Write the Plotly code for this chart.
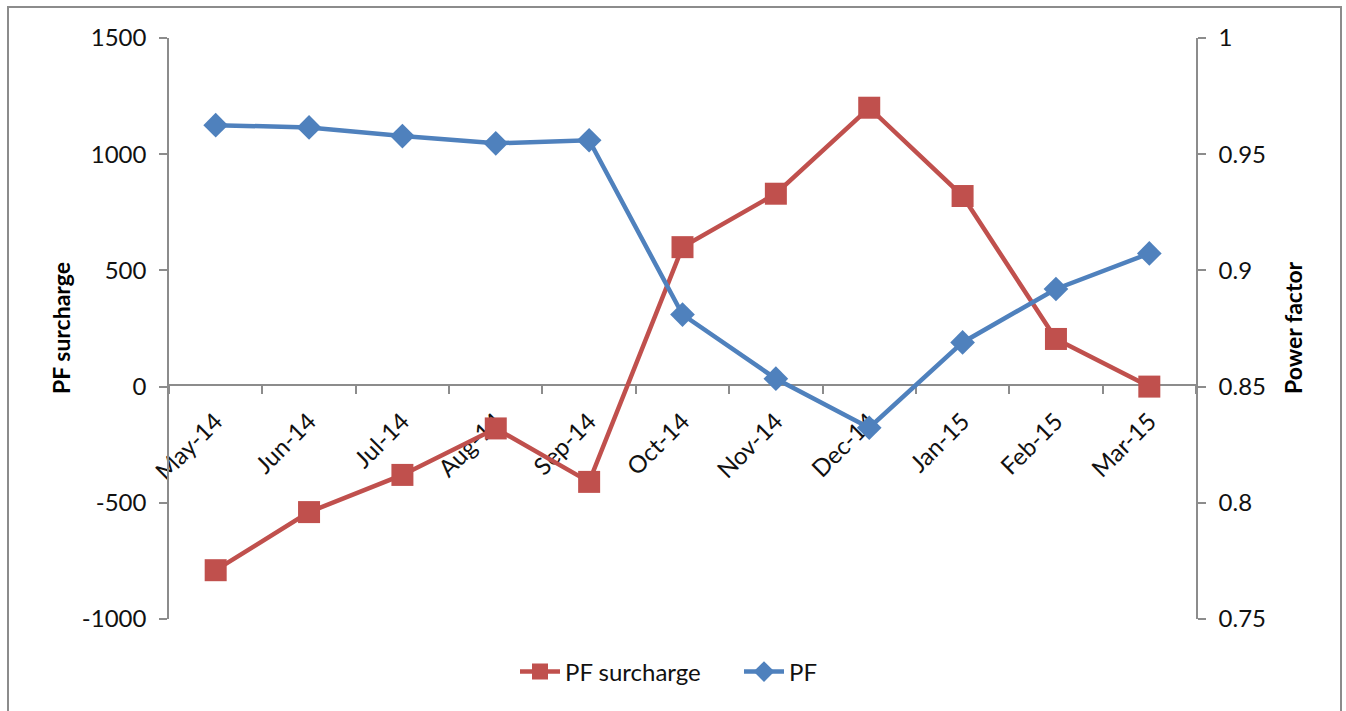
import plotly.graph_objects as go

months = ["May-14", "Jun-14", "Jul-14", "Aug-14", "Sep-14", "Oct-14",
          "Nov-14", "Dec-14", "Jan-15", "Feb-15", "Mar-15"]
pf_surcharge = [-790, -540, -380, -180, -410, 600, 830, 1200, 820, 205, 0]
pf = [0.9625, 0.9615, 0.9578, 0.9547, 0.956, 0.881, 0.8534, 0.8323, 0.869, 0.892, 0.9073]
left_ticks = [-1000, -500, 0, 500, 1000, 1500]
left_labels = ["-1000", "-500", "0", "500", "1000", "1500"]
right_ticks = [0.75, 0.8, 0.85, 0.9, 0.95, 1]
right_labels = ["0.75", "0.8", "0.85", "0.9", "0.95", "1"]

W, H = 1346, 711
L, R, T, B = 169, 1196, 38, 619
pw, ph = R - L, B - T

def px(x):
    return (x - L) / pw

def py(y):
    return (B - y) / ph

FONT = "Lato"
AX = "#8c8c8c"
TXT = "#111"

fig = go.Figure()
fig.add_trace(go.Scatter(
    x=months, y=pf_surcharge, name="PF surcharge", mode="lines+markers",
    line=dict(color="#C0504D", width=4.5),
    marker=dict(symbol="square", size=22, color="#C0504D"),
    yaxis="y"))
fig.add_trace(go.Scatter(
    x=months, y=pf, name="PF", mode="lines+markers",
    line=dict(color="#4F81BD", width=4.5),
    marker=dict(symbol="diamond", size=19, color="#4F81BD"),
    yaxis="y2"))

fig.update_layout(
    width=W, height=H,
    margin=dict(l=L, r=W - R, t=T, b=H - B, autoexpand=False),
    paper_bgcolor="white", plot_bgcolor="white",
    font=dict(family=FONT, size=24, color=TXT),
    showlegend=True,
    legend=dict(orientation="h", x=px(515), xanchor="left",
                y=py(672), yanchor="middle", font=dict(size=24, color=TXT),
                bgcolor="rgba(0,0,0,0)", itemwidth=40,
                entrywidth=169, entrywidthmode="pixels"),
    xaxis=dict(type="category", range=[-0.5, len(months) - 0.5],
               anchor="free", position=py(385),
               showline=True, linecolor=AX, linewidth=1.5,
               ticks="outside", ticklen=8, tickcolor=AX, tickwidth=1.5,
               tickson="boundaries", tickangle=-45, showgrid=False,
               zeroline=False, layer="below traces", ticklabelstandoff=12,
               tickfont=dict(size=24, color=TXT)),
    yaxis=dict(range=[-1000, 1500], tickvals=left_ticks, ticktext=left_labels,
               showline=True, linecolor=AX, linewidth=1.5,
               ticks="outside", ticklen=8, tickcolor=AX, tickwidth=1.5,
               showgrid=False, zeroline=False, ticklabelstandoff=8,
               tickfont=dict(size=24, color=TXT)),
    yaxis2=dict(range=[0.75, 1.0], tickvals=right_ticks, ticktext=right_labels,
                overlaying="y", side="right", anchor="x",
                showline=True, linecolor=AX, linewidth=1.5,
                ticks="outside", ticklen=8, tickcolor=AX, tickwidth=1.5,
                showgrid=False, zeroline=False, ticklabelstandoff=8,
                tickfont=dict(size=24, color=TXT)),
)

fig.add_annotation(text="<b>PF surcharge</b>", textangle=-90, xref="paper", yref="paper",
                   x=px(61), y=py(328), xanchor="center", yanchor="middle",
                   showarrow=False, font=dict(size=23, color="#000"))
fig.add_annotation(text="<b>Power factor</b>", textangle=-90, xref="paper", yref="paper",
                   x=px(1293), y=py(328), xanchor="center", yanchor="middle",
                   showarrow=False, font=dict(size=23, color="#000"))

fig.add_shape(type="rect", xref="paper", yref="paper",
              x0=px(8), x1=px(1341), y0=py(720), y1=py(7),
              line=dict(color="#8c8c8c", width=2), fillcolor="rgba(0,0,0,0)", layer="below")

fig.write_html("out.html")
